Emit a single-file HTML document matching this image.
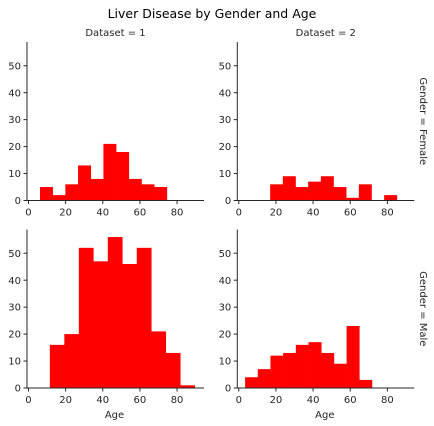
<!DOCTYPE html>
<html><head><meta charset="utf-8"><style>
html,body{margin:0;padding:0;background:#fff;}
svg{display:block;font-family:"DejaVu Sans","Liberation Sans",sans-serif;}
</style></head><body>
<svg id="chart" width="434" height="426" viewBox="0 0 434 426">
<text x="212" y="18" font-size="12.5" text-anchor="middle" fill="#000">Liver Disease by Gender and Age</text>
</svg>
<script>
// Shared bins: start age, bin width
const binStartD1F = 6.2, binWidthD1F = 6.83;
const binStartD2F = 16.9, binWidthD2F = 6.82;
const binStartD1M = 11.5, binWidthD1M = 7.8;
const binStartD2M = 3.4, binWidthD2M = 6.83;
const countsD1F = [5, 2, 6, 13, 8, 21, 18, 8, 6, 5];
const countsD2F = [6, 9, 5, 7, 9, 5, 1, 6, 0, 2];
const countsD1M = [16, 20, 52, 47, 56, 46, 52, 21, 13, 1];
const countsD2M = [4, 7, 12, 13, 16, 17, 13, 9, 23, 3];
const xTicks = [0, 20, 40, 60, 80];
const yTicks = [0, 10, 20, 30, 40, 50];
const xDomain = [-0.8, 94.5];
const yDomain = [0, 58.8];

const NS = "http://www.w3.org/2000/svg";
const svg = document.getElementById("chart");
function mk(tag, attrs, parent) {
  const e = document.createElementNS(NS, tag);
  for (const k in attrs) e.setAttribute(k, attrs[k]);
  (parent || svg).appendChild(e);
  return e;
}
const panels = [
  {key: "d1-female", left: 27, top: 42, counts: countsD1F, start: binStartD1F, width: binWidthD1F, col: "Dataset = 1", row: null, xlabel: false},
  {key: "d2-female", left: 237.3, top: 42, counts: countsD2F, start: binStartD2F, width: binWidthD2F, col: "Dataset = 2", row: "Gender = Female", xlabel: false},
  {key: "d1-male", left: 27, top: 229.5, counts: countsD1M, start: binStartD1M, width: binWidthD1M, col: null, row: null, xlabel: true},
  {key: "d2-male", left: 237.3, top: 229.5, counts: countsD2M, start: binStartD2M, width: binWidthD2M, col: null, row: "Gender = Male", xlabel: true}
];
const W = 177, H = 158.5;
panels.forEach(p => {
  const g = mk("g", {});
  
  
  const xs = v => p.left + (v - xDomain[0]) / (xDomain[1] - xDomain[0]) * W;
  const ys = v => p.top + H - (v - yDomain[0]) / (yDomain[1] - yDomain[0]) * H;
  p.counts.forEach((c, i) => {
    const x0 = xs(p.start + i * p.width), x1 = xs(p.start + (i + 1) * p.width);
    const r = mk("rect", {x: x0, y: ys(c), width: x1 - x0 + 0.3, height: ys(0) - ys(c), fill: "#ff0000"}, g);
    
    
  });
  const ya = mk("line", {x1: p.left, y1: p.top, x2: p.left, y2: p.top + H, stroke: "#262626", "stroke-width": 1}, g);
  
  
  const xa = mk("line", {x1: p.left, y1: p.top + H, x2: p.left + W, y2: p.top + H, stroke: "#262626", "stroke-width": 1}, g);
  
  
  xTicks.forEach(t => {
    const x = xs(t);
    mk("line", {x1: x, y1: p.top + H, x2: x, y2: p.top + H + 3.5, stroke: "#262626"}, g);
    const tx = mk("text", {x: x, y: p.top + H + 15, "font-size": 10, "text-anchor": "middle", fill: "#262626"}, g);
    tx.textContent = t;
    
    
  });
  yTicks.forEach(t => {
    const y = ys(t);
    mk("line", {x1: p.left - 3.5, y1: y, x2: p.left, y2: y, stroke: "#262626"}, g);
    const tx = mk("text", {x: p.left - 6, y: y + 3.6, "font-size": 10, "text-anchor": "end", fill: "#262626"}, g);
    tx.textContent = t;
    
    
  });
  if (p.col) {
    const t = mk("text", {x: p.left + W / 2, y: 36, "font-size": 10, "text-anchor": "middle", fill: "#262626"}, g);
    t.textContent = p.col;
    
    
  }
  if (p.row) {
    const cy = p.top + H / 2;
    const t = mk("text", {x: 420, y: cy, "font-size": 10, "text-anchor": "middle", fill: "#262626", transform: "rotate(90 420 " + cy + ")"}, g);
    t.textContent = p.row;
    
    
  }
  if (p.xlabel) {
    const t = mk("text", {x: p.left + W / 2 - 1, y: 418, "font-size": 10, "text-anchor": "middle", fill: "#262626"}, g);
    t.textContent = "Age";
    
    
  }
});
</script>
</body></html>
